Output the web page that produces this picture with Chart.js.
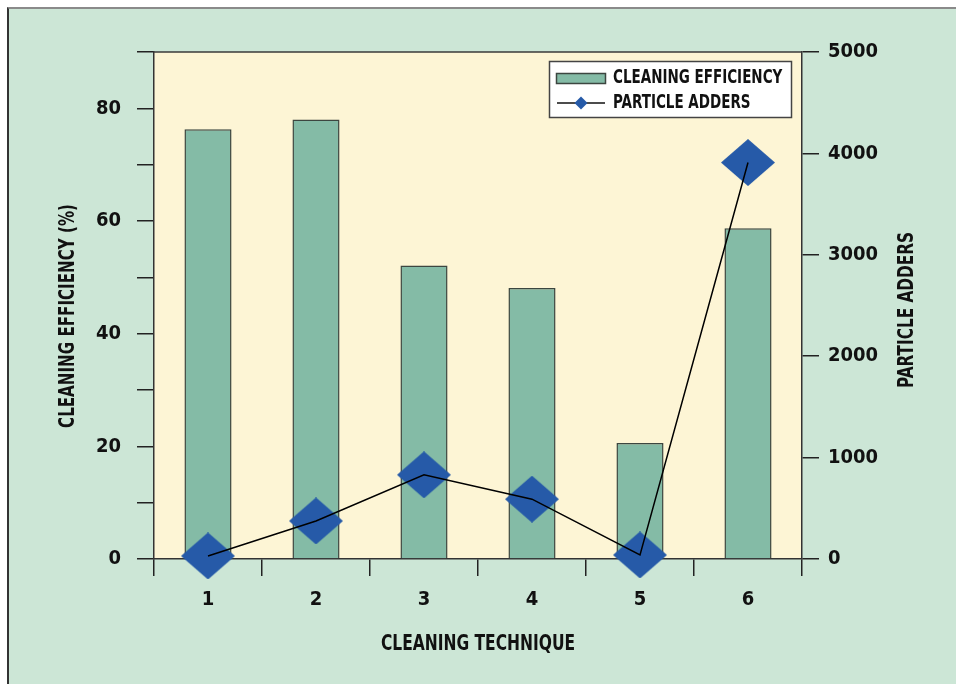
<!DOCTYPE html>
<html>
<head>
<meta charset="utf-8">
<script src="https://cdn.jsdelivr.net/npm/chart.js@4.4.1/dist/chart.umd.min.js"></script>
<style>
  html, body { margin: 0; padding: 0; background: #ffffff; width: 956px; height: 684px; overflow: hidden; }
  #frame { position: absolute; left: 7px; top: 7px; right: 0; bottom: 0; background: #cce6d6;
           border-left: 2px solid #333333; border-top: 2px solid #8a8a8a; }
  #wrap { position: absolute; left: 0; top: 0; width: 956px; height: 684px; }
</style>
</head>
<body>
<div id="frame"></div>
<div id="wrap"><canvas id="chart" width="956" height="684"></canvas></div>
<script>
// Cleaning technique comparison: efficiency (bars, left axis) and particle adders (line, right axis)
const categories = ['1', '2', '3', '4', '5', '6'];
const cleaningEfficiency = [76.3, 78.0, 52.1, 48.1, 20.6, 58.7];
const particleAdders = [30, 375, 830, 590, 40, 3910];
const efficiencyLabelTicks = [0, 20, 40, 60, 80];

const SERIES_NAMES = ['CLEANING EFFICIENCY', 'PARTICLE ADDERS'];
const AXIS_TITLES = { x: 'CLEANING TECHNIQUE', left: 'CLEANING EFFICIENCY (%)', right: 'PARTICLE ADDERS' };

const FAMILY = "'Liberation Sans Narrow', 'DejaVu Sans Condensed', 'Arial Narrow', sans-serif";
const BAR_FILL = '#84bba6';
const BAR_EDGE = '#3c4640';
const DIAMOND = '#265aa8';
const PLOT_BG = '#fdf5d5';
const INK = '#111111';

function diamondImage(w, h, color) {
  const c = document.createElement('canvas');
  c.width = w; c.height = h;
  const g = c.getContext('2d');
  g.fillStyle = color;
  g.beginPath();
  g.moveTo(w / 2, 0); g.lineTo(w, h / 2); g.lineTo(w / 2, h); g.lineTo(0, h / 2);
  g.closePath(); g.fill();
  return c;
}
const bigDiamond = diamondImage(54, 47, DIAMOND);

// condensed bold text, centred on (x, y)
function drawText(ctx, text, x, y, size, rot, squeeze, align) {
  ctx.save();
  ctx.translate(x, y);
  ctx.rotate(rot);
  ctx.scale(squeeze, 1);
  ctx.font = `bold ${size}px ${FAMILY}`;
  ctx.fillStyle = INK;
  ctx.textAlign = align || 'center';
  ctx.textBaseline = 'middle';
  ctx.fillText(text, 0, 0);
  ctx.restore();
}

const decor = {
  id: 'decor',
  beforeDraw(chart) {
    const { ctx, chartArea: a } = chart;
    ctx.save();
    ctx.fillStyle = PLOT_BG;
    ctx.fillRect(a.left, a.top, a.right - a.left, a.bottom - a.top);
    ctx.restore();
  },
  beforeDatasetsDraw(chart) {
    const { ctx, chartArea: a } = chart;
    ctx.save();
    ctx.strokeStyle = '#3a3a3a';
    ctx.lineWidth = 1.5;
    ctx.beginPath();
    ctx.moveTo(a.left, a.top); ctx.lineTo(a.right, a.top);
    ctx.stroke();
    ctx.restore();
  },
  afterDraw(chart) {
    const { ctx } = chart;
    // axis titles
    drawText(ctx, AXIS_TITLES.x, 478, 645, 21, 0, 0.82);
    drawText(ctx, AXIS_TITLES.left, 69, 316, 21, -Math.PI / 2, 0.8);
    drawText(ctx, AXIS_TITLES.right, 908, 310, 21, -Math.PI / 2, 0.81);

    // legend box
    ctx.save();
    ctx.fillStyle = '#ffffff';
    ctx.strokeStyle = '#444444';
    ctx.lineWidth = 1.5;
    ctx.fillRect(549, 61, 243, 57);
    ctx.strokeRect(549.5, 61.5, 242, 56);
    ctx.fillStyle = BAR_FILL;
    ctx.fillRect(556, 73, 50, 10);
    ctx.strokeStyle = BAR_EDGE;
    ctx.strokeRect(556.5, 73.5, 49, 10);
    ctx.strokeStyle = '#111111';
    ctx.beginPath();
    ctx.moveTo(557, 103); ctx.lineTo(605, 103);
    ctx.stroke();
    ctx.fillStyle = DIAMOND;
    ctx.beginPath();
    ctx.moveTo(581, 96.5); ctx.lineTo(587.5, 103); ctx.lineTo(581, 109.5); ctx.lineTo(574.5, 103);
    ctx.closePath(); ctx.fill();
    ctx.restore();
    drawText(ctx, SERIES_NAMES[0], 613, 78, 20, 0, 0.75, 'left');
    drawText(ctx, SERIES_NAMES[1], 613, 103, 20, 0, 0.75, 'left');
  }
};

const tickFont = { family: FAMILY, size: 20, weight: 'bold' };

new Chart(document.getElementById('chart'), {
  type: 'bar',
  data: {
    labels: categories,
    datasets: [
      {
        type: 'line',
        label: SERIES_NAMES[1],
        data: particleAdders,
        yAxisID: 'yAdd',
        borderColor: '#000000',
        borderWidth: 1.5,
        tension: 0,
        pointRadius: 0,
        order: 1
      },
      {
        type: 'line',
        label: SERIES_NAMES[1] + ' markers',
        data: particleAdders,
        yAxisID: 'yAdd',
        showLine: false,
        pointStyle: bigDiamond,
        pointRadius: 27,
        clip: false,
        order: 2
      },
      {
        type: 'bar',
        label: SERIES_NAMES[0],
        data: cleaningEfficiency,
        yAxisID: 'yEff',
        backgroundColor: BAR_FILL,
        borderColor: BAR_EDGE,
        borderWidth: 1.5,
        categoryPercentage: 1,
        barPercentage: 0.436,
        order: 3
      }
    ]
  },
  options: {
    responsive: false,
    animation: false,
    devicePixelRatio: 1,
    layout: { padding: { top: 52, left: 0, right: 0, bottom: 0 } },
    plugins: { legend: { display: false }, tooltip: { enabled: false } },
    scales: {
      x: {
        type: 'category',
        offset: true,
        grid: { offset: true, drawOnChartArea: false, drawTicks: true, tickLength: 17, color: '#222222', lineWidth: 1.5 },
        border: { display: true, color: '#333333', width: 1.5 },
        ticks: { font: tickFont, color: INK, padding: 12, maxRotation: 0 },
        afterFit(s) { s.height = 125; }
      },
      yEff: {
        position: 'left',
        min: 0, max: 90,
        grid: { drawOnChartArea: false, drawTicks: true, tickLength: 17, color: '#222222', lineWidth: 1.5 },
        border: { display: true, color: '#333333', width: 1.5 },
        ticks: {
          stepSize: 10, font: tickFont, color: INK, padding: 16,
          callback: v => efficiencyLabelTicks.includes(v) ? String(v) : ''
        },
        afterFit(s) { s.width = 154; }
      },
      yAdd: {
        position: 'right',
        min: 0, max: 5000,
        grid: { drawOnChartArea: false, drawTicks: true, tickLength: 17, color: '#222222', lineWidth: 1.5 },
        border: { display: true, color: '#333333', width: 1.5 },
        ticks: { stepSize: 1000, font: tickFont, color: INK, padding: 9, callback: v => String(v) },
        afterFit(s) { s.width = 154; }
      }
    }
  },
  plugins: [decor]
});
</script>
</body>
</html>
